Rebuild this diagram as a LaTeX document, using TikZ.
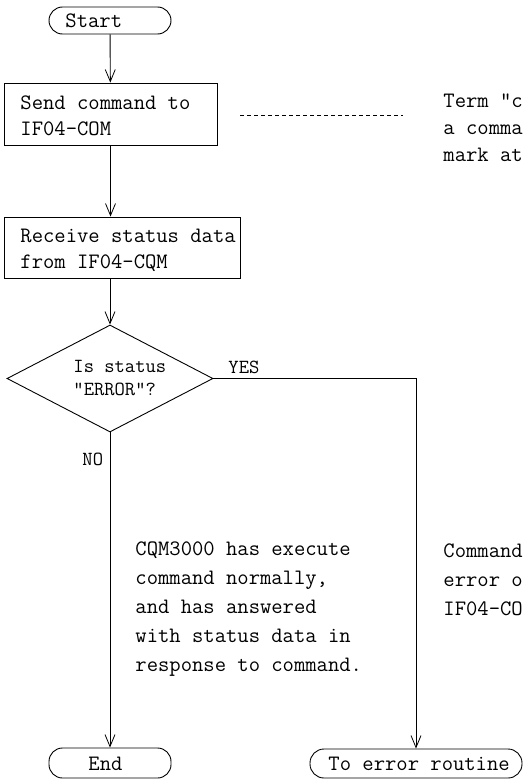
\documentclass[tikz,border=0pt]{standalone}
\usetikzlibrary{arrows.meta,shapes.geometric}
\begin{document}
\begin{tikzpicture}[x=1pt,y=-1pt,
  line width=0.9pt,
  arr/.style={-{Straight Barb[length=12pt,width=10pt,line width=0.8pt]}},
  box/.style={draw, rectangle, inner sep=0pt},
  term/.style={draw, rectangle, inner sep=0pt, rounded corners=13.5pt},
  dia/.style={draw, diamond, inner sep=0pt, minimum width=206pt, minimum height=107pt},
  txt/.style={font=\ttfamily\fontsize{22}{26}\selectfont, inner sep=0pt, align=left, anchor=west},
  ltxt/.style={font=\ttfamily\fontsize{22}{29}\selectfont, inner sep=0pt, align=left, anchor=west},
  dtxt/.style={font=\ttfamily\fontsize{20}{23}\selectfont, inner sep=0pt, align=left, anchor=west}]
\useasboundingbox (0,0) rectangle (523,779);
% shapes
\node[term, minimum width=122pt, minimum height=27pt] (start) at (110,20.5) {};
\node[box, minimum width=213pt, minimum height=62pt] (send) at (110.5,114) {};
\node[box, minimum width=236pt, minimum height=61pt] (recv) at (122,247.5) {};
\node[dia] (dec) at (110,378.5) {};
\node[term, minimum width=122pt, minimum height=30pt] (end) at (110,763) {};
\node[term, minimum width=212pt, minimum height=29pt, rounded corners=14pt] (err) at (416,763.5) {};
% texts
\node[txt] (tstart) at (65,21) {Start};
\node[txt] (tsend) at (20,116) {Send command to\\IF04-COM};
\node[txt] (trecv) at (20,250) {Receive status data\\from IF04-CQM};
\node[dtxt] (tdec) at (73,378.5) {Is status\\"ERROR"?};
\node[dtxt] (tyes) at (228,367) {YES};
\node[dtxt] (tno) at (82,459) {NO};
\node[txt, font=\ttfamily\fontsize{22}{27}\selectfont] (tnote) at (443,128) {Term "c\\a comma\\mark at};
\node[ltxt] (tok) at (135,609) {CQM3000 has execute\\command normally,\\and has answered\\with status data in\\response to command.};
\node[ltxt] (terrn) at (443,580) {Command\\error o\\IF04-CO};
\node[txt] (tend) at (88,764) {End};
\node[txt] (terr) at (328,764) {To error routine};
% connectors
\draw[arr] (start) -- (send);
\draw[arr] (send) -- (recv.north -| send.north);
\draw[arr] (recv.south -| dec.north) -- (dec.north);
\draw[arr] (dec.south) -- (end.north);
\draw[arr] (dec.east) -| (err.north);
\coordinate (da) at (240,115);
\coordinate (db) at (403,115);
\draw[dashed, dash pattern=on 4pt off 3pt] (da) -- (db);
\end{tikzpicture}
\end{document}
